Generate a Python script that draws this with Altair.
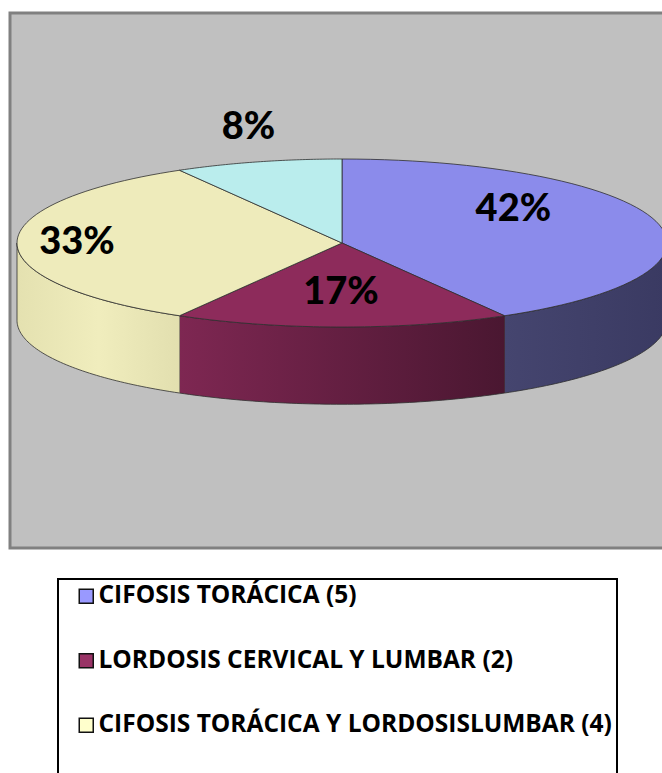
import altair as alt
import pandas as pd

# Casos por tipo de alteración postural
categorias = [
    "CIFOSIS TORÁCICA (5)",
    "LORDOSIS CERVICAL Y LUMBAR (2)",
    "CIFOSIS TORÁCICA Y LORDOSISLUMBAR (4)",
    "ESCOLIOSIS (1)",
]
casos = [5, 2, 4, 1]

# Colores: cara superior, cuadros de la leyenda y degradado del canto
color_cara = ["#8B8BEB", "#8D2B5B", "#EEEBBB", "#BAEDED"]
color_leyenda = ["#9999FF", "#993366", "#FFFFCC", "#CCFFFF"]
degradado_canto = [
    ["#45456F", "#3A3A62"],
    ["#7E2752", "#4A1731"],
    ["#E4E1B0", "#F0EDBD", "#E2DFAF"],
    ["#A8DADA", "#98CACA"],
]

# Desplazamiento (px) de cada etiqueta de porcentaje
etiqueta_dx = [-17, -1, -70, -43]
etiqueta_dy = [-20, 0, 0, -66]

GROSOR = 0.92   # espesor del disco, en radios verticales
PASOS = 60      # segmentos por arco
BORDE = "#2E2E2E"

df = pd.DataFrame({
    "categoria": categorias,
    "casos": casos,
    "orden": list(range(len(casos))),
})

# Elipse del disco: radio horizontal 325 px, vertical 84 px
x_esc = alt.Scale(domain=[-1, 1], range=[17, 667])
y_esc = alt.Scale(domain=[-1, 1], range=[327, 159])

base = (
    alt.Chart(df)
    .transform_joinaggregate(total="sum(casos)")
    .transform_window(acum="sum(casos)", sort=[alt.SortField("orden")], frame=[None, 0])
    .transform_calculate(
        a0="2*PI*(datum.acum - datum.casos)/datum.total",
        a1="2*PI*datum.acum/datum.total",
    )
)

# Cara superior de cada porción: centro -> arco -> centro
caras = (
    base.transform_calculate(paso=f"sequence(-1, {PASOS + 2})")
    .transform_flatten(["paso"])
    .transform_calculate(
        en_arco=f"datum.paso >= 0 && datum.paso <= {PASOS}",
        ang=f"datum.a0 + (datum.a1 - datum.a0) * clamp(datum.paso, 0, {PASOS}) / {PASOS}",
    )
    .transform_calculate(
        ex="datum.en_arco ? sin(datum.ang) : 0",
        ey="datum.en_arco ? cos(datum.ang) : 0",
    )
    .mark_line(stroke=BORDE, strokeWidth=0.8, strokeJoin="round")
    .encode(
        x=alt.X("ex:Q", scale=x_esc, axis=None),
        y=alt.Y("ey:Q", scale=y_esc, axis=None),
        order="paso:Q",
        detail="categoria:N",
        fill=alt.Fill(
            "categoria:N",
            scale=alt.Scale(domain=categorias, range=color_cara),
            legend=None,
        ),
    )
)

# Canto visible (mitad delantera) de cada porción
cantos_base = (
    base.transform_calculate(
        s0="max(datum.a0, PI/2)",
        s1="min(datum.a1, 3*PI/2)",
    )
    .transform_filter("datum.s1 > datum.s0")
    .transform_calculate(paso=f"sequence(0, {2 * PASOS + 2})")
    .transform_flatten(["paso"])
    .transform_calculate(arriba=f"datum.paso <= {PASOS}")
    .transform_calculate(
        ang=(
            f"datum.arriba ? datum.s0 + (datum.s1 - datum.s0) * datum.paso / {PASOS}"
            f" : datum.s1 - (datum.s1 - datum.s0) * (datum.paso - {PASOS + 1}) / {PASOS}"
        )
    )
    .transform_calculate(
        ex="sin(datum.ang)",
        ey=f"cos(datum.ang) - (datum.arriba ? 0 : {GROSOR})",
    )
)

cantos = []
for i, paradas in enumerate(degradado_canto):
    n = len(paradas) - 1
    grad = alt.Gradient(
        gradient="linear",
        stops=[alt.GradientStop(color=c, offset=k / n) for k, c in enumerate(paradas)],
        x1=0, x2=1, y1=0, y2=0,
    )
    cantos.append(
        cantos_base.transform_filter(alt.datum.orden == i)
        .mark_line(fill=grad, stroke=BORDE, strokeWidth=0.8, strokeJoin="round")
        .encode(
            x=alt.X("ex:Q", scale=x_esc, axis=None),
            y=alt.Y("ey:Q", scale=y_esc, axis=None),
            order="paso:Q",
        )
    )

# Porcentajes
etiquetas_base = base.transform_calculate(
    mid="(datum.a0 + datum.a1) / 2",
    pct="format(datum.casos / datum.total, '.0%')",
).transform_calculate(
    lx="0.6 * sin(datum.mid)",
    ly="0.6 * cos(datum.mid)",
)
etiquetas = [
    etiquetas_base.transform_filter(alt.datum.orden == i)
    .mark_text(
        font="Lato", fontWeight=900, fontSize=38, color="black",
        dx=etiqueta_dx[i], dy=etiqueta_dy[i],
    )
    .encode(
        x=alt.X("lx:Q", scale=x_esc, axis=None),
        y=alt.Y("ly:Q", scale=y_esc, axis=None),
        text="pct:N",
    )
    for i in range(len(casos))
]

# Marca mínima en el centro que genera la leyenda (queda bajo el disco)
leyenda = (
    base.transform_calculate(cx="0", cy="0")
    .mark_square(size=4, opacity=1)
    .encode(
        x=alt.X("cx:Q", scale=x_esc, axis=None),
        y=alt.Y("cy:Q", scale=y_esc, axis=None),
        color=alt.Color(
            "categoria:N",
            scale=alt.Scale(domain=categorias, range=color_leyenda),
            legend=alt.Legend(
                title=None,
                orient="none",
                legendX=58,
                legendY=579,
                direction="vertical",
                symbolType="square",
                symbolSize=196,
                symbolStrokeColor="#111111",
                symbolStrokeWidth=1.5,
                symbolOffset=11,
                labelOffset=0,
                labelFont="Open Sans",
                labelFontSize=24.5,
                labelFontWeight="bold",
                labelColor="black",
                labelLimit=700,
                rowPadding=39.5,
                padding=5,
                strokeColor="black",
                fillColor="white",
            ),
        ),
    )
)

# Fondo gris del área del gráfico
fondo = (
    alt.Chart(pd.DataFrame({"k": [0]}))
    .mark_rect(fill="#C0C0C0", stroke="#808080", strokeWidth=3)
    .encode(
        x=alt.value(10), x2=alt.value(700),
        y=alt.value(13), y2=alt.value(548),
    )
)

chart = (
    alt.layer(fondo, leyenda, *cantos, caras, *etiquetas)
    .properties(
        width=662,
        height=773,
        padding=0,
        autosize=alt.AutoSizeParams(type="none"),
        background="white",
    )
    .configure_view(stroke=None)
    .configure_legend(strokeWidth=2)
)

chart.save("out.html", embed_options={"renderer": "svg", "actions": False})
